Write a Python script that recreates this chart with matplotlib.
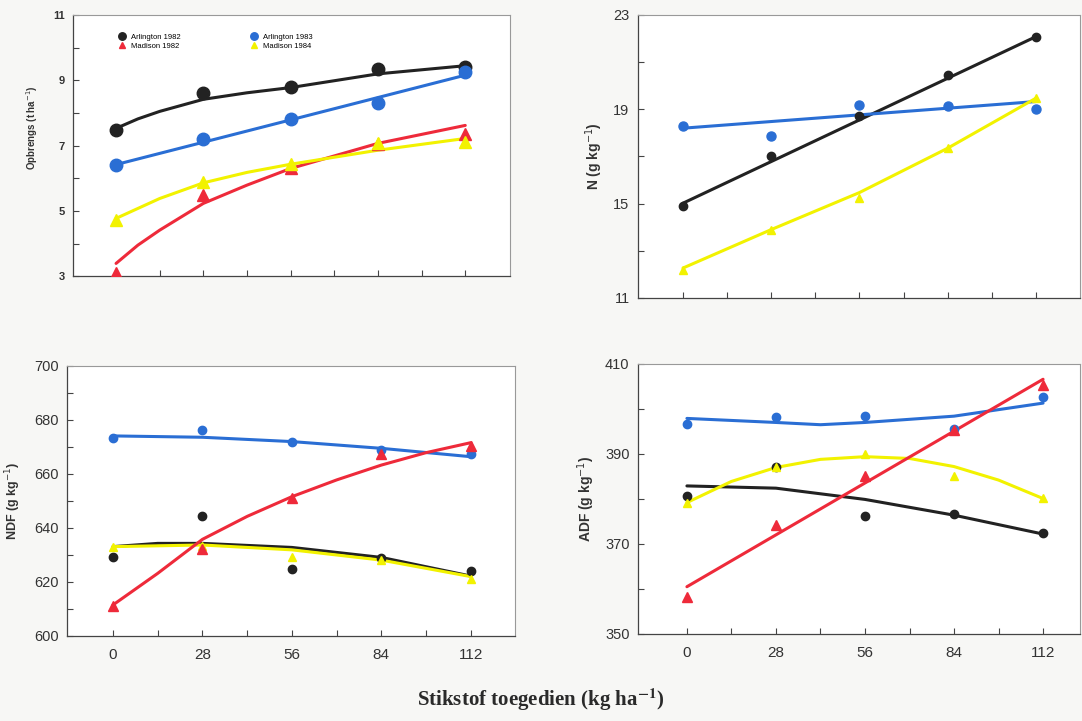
import matplotlib.pyplot as plt

plt.rcParams['font.family'] = ['Liberation Sans', 'DejaVu Sans']

# stikstof peile (kg ha-1)
n_rate = [0, 28, 56, 84, 112]

# kleure
c_ar82 = '#222222'
c_ar83 = '#2a6ed4'
c_ma82 = '#ee2a3a'
c_ma84 = '#f2f200'

# ---- Opbrengs (t ha-1) ----
opb_ar82 = [7.48, 8.60, 8.80, 9.35, 9.40]
opb_ar83 = [6.42, 7.21, 7.81, 8.31, 9.25]
opb_ma82 = [3.10, 5.48, 6.30, 7.05, 7.35]
opb_ma84 = [4.72, 5.89, 6.45, 7.07, 7.12]
opb_ar82_fx = [0, 7, 14, 28, 42, 56, 84, 112]
opb_ar82_fy = [7.53, 7.82, 8.05, 8.42, 8.62, 8.78, 9.20, 9.45]
opb_ar83_fx = [0, 112]
opb_ar83_fy = [6.42, 9.16]
opb_ma82_fx = [0, 7, 14, 28, 42, 56, 84, 112]
opb_ma82_fy = [3.39, 3.95, 4.41, 5.23, 5.79, 6.30, 7.07, 7.62]
opb_ma84_fx = [0, 14, 28, 42, 56, 84, 112]
opb_ma84_fy = [4.77, 5.38, 5.86, 6.18, 6.43, 6.86, 7.22]

# ---- N (g kg-1) ----
n_ar82 = [14.92, 17.00, 18.72, 20.46, 22.08]
n_ar83 = [18.31, 17.87, 19.20, 19.15, 19.00]
n_ma84 = [12.17, 13.89, 15.23, 17.38, 19.47]
n_ar82_fx = [0, 112]
n_ar82_fy = [15.02, 22.08]
n_ar83_fx = [0, 112]
n_ar83_fy = [18.20, 19.33]
n_ma84_fx = [0, 28, 56, 84, 112]
n_ma84_fy = [12.27, 13.90, 15.47, 17.35, 19.47]

# ---- NDF (g kg-1) ----
ndf_ar82 = [629.1, 644.6, 624.8, 628.8, 624.0]
ndf_ar83 = [673.2, 676.3, 672.0, 669.0, 667.3]
ndf_ma82 = [611.1, 632.1, 651.2, 667.4, 670.4]
ndf_ma84 = [633.1, 633.5, 629.1, 628.0, 621.0]
ndf_ar82_fx = [0, 14, 28, 56, 84, 112]
ndf_ar82_fy = [633.1, 634.3, 634.3, 632.8, 629.1, 622.2]
ndf_ar83_fx = [0, 28, 56, 84, 112]
ndf_ar83_fy = [674.1, 673.6, 672.0, 669.5, 666.4]
ndf_ma82_fx = [0, 14, 28, 42, 56, 70, 84, 98, 112]
ndf_ma82_fy = [611.5, 623.2, 635.8, 644.3, 651.6, 657.8, 663.3, 667.9, 671.6]
ndf_ma84_fx = [0, 28, 56, 84, 112]
ndf_ma84_fy = [633.1, 633.7, 631.9, 628.1, 622.0]

# ---- ADF (g kg-1) ----
adf_ar82 = [380.7, 387.2, 376.3, 376.6, 372.5]
adf_ar83 = [396.7, 398.3, 398.4, 395.5, 402.6]
adf_ma82 = [358.3, 374.2, 385.1, 395.3, 405.3]
adf_ma84 = [379.0, 387.2, 390.1, 385.1, 380.3]
adf_ar82_fx = [0, 28, 56, 84, 112]
adf_ar82_fy = [382.9, 382.4, 379.9, 376.4, 372.2]
adf_ar83_fx = [0, 28, 42, 56, 84, 112]
adf_ar83_fy = [397.9, 397.0, 396.5, 397.0, 398.4, 401.3]
adf_ma82_fx = [0, 112]
adf_ma82_fy = [360.5, 406.6]
adf_ma84_fx = [0, 14, 28, 42, 56, 70, 84, 98, 112]
adf_ma84_fy = [379.2, 383.9, 387.0, 388.8, 389.4, 389.0, 387.2, 384.2, 380.1]

fig = plt.figure(figsize=(10.82, 7.21), dpi=100)
fig.patch.set_facecolor('#f7f7f5')

ax1 = fig.add_axes([0.0675, 0.617, 0.404, 0.362])
ax2 = fig.add_axes([0.5896, 0.5867, 0.4085, 0.3925])
ax3 = fig.add_axes([0.0619, 0.1179, 0.414, 0.3745])
ax4 = fig.add_axes([0.5896, 0.1207, 0.4085, 0.3745])


def opmaak(ax, ylim, yticks, yminor, xlim, xlabels, ms_font):
    ax.set_xlim(xlim)
    ax.set_ylim(ylim)
    ax.set_xticks(n_rate)
    ax.set_xticks([14, 42, 70, 98], minor=True)
    ax.set_yticks(yticks)
    ax.set_yticks(yminor, minor=True)
    if xlabels:
        ax.set_xticklabels([str(v) for v in n_rate], fontsize=11, color='#333333')
    else:
        ax.set_xticklabels([])
    ax.tick_params(axis='both', which='both', direction='in', length=4, width=0.8,
                   color='#444444')
    ax.tick_params(axis='y', labelsize=ms_font, labelcolor='#333333', pad=6)
    ax.tick_params(axis='x', pad=9)
    for s in ['left', 'bottom']:
        ax.spines[s].set_color('#444444')
        ax.spines[s].set_linewidth(0.9)
    for s in ['top', 'right']:
        ax.spines[s].set_color('#999999')
        ax.spines[s].set_linewidth(0.8)
    ax.set_facecolor('white')


def reeks(ax, x, y, fx, fy, kleur, merk, ms, lw=2.2, label=None):
    ax.plot(fx, fy, color=kleur, lw=lw, solid_capstyle='round', solid_joinstyle='round',
            zorder=2)
    ax.plot(x, y, linestyle='none', marker=merk, color=kleur, markersize=ms,
            markeredgecolor=kleur, zorder=3, label=label)


# Opbrengs
reeks(ax1, n_rate, opb_ar82, opb_ar82_fx, opb_ar82_fy, c_ar82, 'o', 9, label='Arlington 1982')
reeks(ax1, n_rate, opb_ma82, opb_ma82_fx, opb_ma82_fy, c_ma82, '^', 8, label='Madison 1982')
reeks(ax1, n_rate, opb_ar83, opb_ar83_fx, opb_ar83_fy, c_ar83, 'o', 9, label='Arlington 1983')
reeks(ax1, n_rate, opb_ma84, opb_ma84_fx, opb_ma84_fy, c_ma84, '^', 8, label='Madison 1984')
opmaak(ax1, (3, 11), [3, 5, 7, 9, 11], [4, 6, 8, 10], (-13.8, 126.4), False, 8)
for t in ax1.get_yticklabels():
    t.set_fontweight('bold')
ax1.set_ylabel('Opbrengs (t ha$^{-1}$)', fontsize=7, fontweight='bold', color='#333333')
ax1.yaxis.set_label_coords(-0.075, 0.57)
leg = ax1.legend(ncol=2, loc='upper left', bbox_to_anchor=(0.085, 0.955), frameon=False,
                 fontsize=5.5, columnspacing=9, handletextpad=0.6, labelspacing=0.15,
                 markerscale=0.6, handlelength=1.2)

# N
reeks(ax2, n_rate, n_ar82, n_ar82_fx, n_ar82_fy, c_ar82, 'o', 6)
reeks(ax2, n_rate, n_ar83, n_ar83_fx, n_ar83_fy, c_ar83, 'o', 6.5)
reeks(ax2, n_rate, n_ma84, n_ma84_fx, n_ma84_fy, c_ma84, '^', 5.5)
opmaak(ax2, (11, 23), [11, 15, 19, 23], [13, 17, 21], (-14.3, 126.0), False, 10.5)
ax2.set_ylabel('N (g kg$^{-1}$)', fontsize=10, fontweight='bold', labelpad=6, color='#333333')

# NDF
reeks(ax3, n_rate, ndf_ar82, ndf_ar82_fx, ndf_ar82_fy, c_ar82, 'o', 6)
reeks(ax3, n_rate, ndf_ar83, ndf_ar83_fx, ndf_ar83_fy, c_ar83, 'o', 6)
reeks(ax3, n_rate, ndf_ma84, ndf_ma84_fx, ndf_ma84_fy, c_ma84, '^', 6)
reeks(ax3, n_rate, ndf_ma82, ndf_ma82_fx, ndf_ma82_fy, c_ma82, '^', 6.5)
opmaak(ax3, (600, 700), [600, 620, 640, 660, 680, 700], [610, 630, 650, 670, 690],
       (-14.4, 125.8), True, 10.5)
ax3.set_ylabel('NDF (g kg$^{-1}$)', fontsize=9, fontweight='bold', labelpad=8, color='#333333')

# ADF
reeks(ax4, n_rate, adf_ar82, adf_ar82_fx, adf_ar82_fy, c_ar82, 'o', 6)
reeks(ax4, n_rate, adf_ar83, adf_ar83_fx, adf_ar83_fy, c_ar83, 'o', 6)
reeks(ax4, n_rate, adf_ma84, adf_ma84_fx, adf_ma84_fy, c_ma84, '^', 6)
reeks(ax4, n_rate, adf_ma82, adf_ma82_fx, adf_ma82_fy, c_ma82, '^', 6.5)
opmaak(ax4, (350, 410), [350, 370, 390, 410], [360, 380, 400], (-15.4, 123.6), True, 10.5)
ax4.set_ylabel('ADF (g kg$^{-1}$)', fontsize=10, fontweight='bold', labelpad=6, color='#333333')

fig.text(0.5, 0.03, r'Stikstof toegedien (kg ha$^{\mathbf{-1}}$)', ha='center', va='center',
         fontsize=15, fontweight='bold', color='#2a2a2a',
         family=['Liberation Serif', 'DejaVu Serif'], math_fontfamily='stix')

fig.savefig('out.png', dpi=100, facecolor=fig.get_facecolor())
